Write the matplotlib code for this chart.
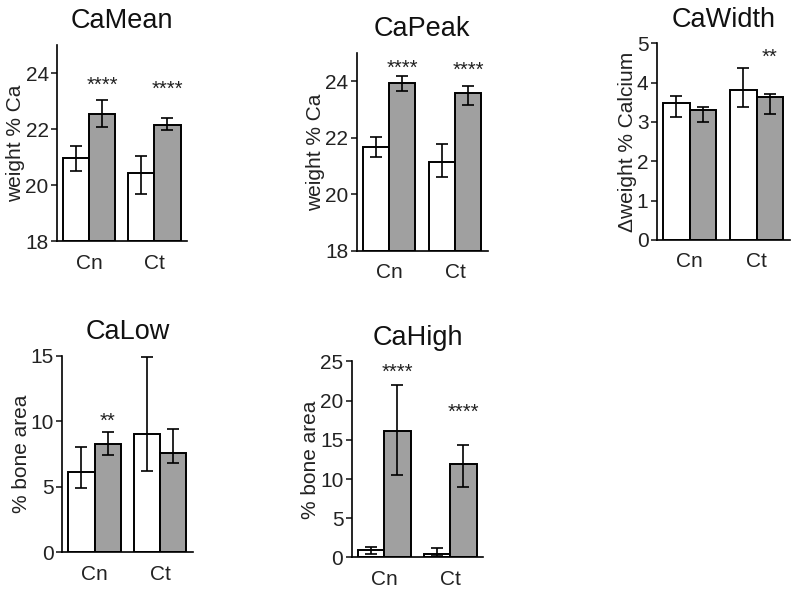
import matplotlib
import numpy as np

matplotlib.use("Agg")
from matplotlib import pyplot as plt

plt.rcParams["font.family"] = ["Liberation Sans", "DejaVu Sans"]

groups = ["Cn", "Ct"]

# CaMean
mean_ctrl = [20.97, 20.44]
mean_ctrl_lo = [0.47, 0.77]
mean_ctrl_hi = [0.43, 0.58]
mean_trt = [22.54, 22.14]
mean_trt_lo = [0.46, 0.19]
mean_trt_hi = [0.50, 0.26]
mean_stars = ["****", "****"]
mean_star_y = [23.79, 23.64]

# CaPeak
peak_ctrl = [21.67, 21.14]
peak_ctrl_lo = [0.37, 0.52]
peak_ctrl_hi = [0.37, 0.62]
peak_trt = [23.94, 23.58]
peak_trt_lo = [0.30, 0.42]
peak_trt_hi = [0.26, 0.26]
peak_stars = ["****", "****"]
peak_star_y = [24.66, 24.60]

# CaWidth
width_ctrl = [3.47, 3.82]
width_ctrl_lo = [0.35, 0.44]
width_ctrl_hi = [0.18, 0.56]
width_trt = [3.30, 3.64]
width_trt_lo = [0.30, 0.43]
width_trt_hi = [0.08, 0.08]
width_stars = ["", "**"]
width_star_y = [0, 4.79]

# CaLow
low_ctrl = [6.12, 9.07]
low_ctrl_lo = [1.20, 2.83]
low_ctrl_hi = [1.93, 5.88]
low_trt = [8.30, 7.62]
low_trt_lo = [0.88, 0.82]
low_trt_hi = [0.92, 1.78]
low_stars = ["**", ""]
low_star_y = [10.5, 0]

# CaHigh
high_ctrl = [0.90, 0.38]
high_ctrl_lo = [0.43, 0.14]
high_ctrl_hi = [0.46, 0.82]
high_trt = [16.16, 11.90]
high_trt_lo = [5.61, 2.97]
high_trt_hi = [5.87, 2.40]
high_stars = ["****", "****"]
high_star_y = [24.36, 19.26]

panels = [
    dict(title="CaMean", ylabel="weight % Ca", ylim=(18, 25), yticks=[18, 20, 22, 24],
         ctrl=mean_ctrl, clo=mean_ctrl_lo, chi=mean_ctrl_hi,
         trt=mean_trt, tlo=mean_trt_lo, thi=mean_trt_hi,
         stars=mean_stars, sy=mean_star_y,
         pos=[0.0713, 0.5963, 0.1625, 0.3283], bottom=18),
    dict(title="CaPeak", ylabel="weight % Ca", ylim=(18, 25), yticks=[18, 20, 22, 24],
         ctrl=peak_ctrl, clo=peak_ctrl_lo, chi=peak_ctrl_hi,
         trt=peak_trt, tlo=peak_trt_lo, thi=peak_trt_hi,
         stars=peak_stars, sy=peak_star_y,
         pos=[0.4459, 0.5801, 0.1641, 0.3312], bottom=18),
    dict(title="CaWidth", ylabel="\u0394weight % Calcium", ylim=(0, 5), yticks=[0, 1, 2, 3, 4, 5],
         ctrl=width_ctrl, clo=width_ctrl_lo, chi=width_ctrl_hi,
         trt=width_trt, tlo=width_trt_lo, thi=width_trt_hi,
         stars=width_stars, sy=width_star_y,
         pos=[0.8209, 0.5980, 0.1666, 0.3295], bottom=0),
    dict(title="CaLow", ylabel="% bone area", ylim=(0, 15), yticks=[0, 5, 10, 15],
         ctrl=low_ctrl, clo=low_ctrl_lo, chi=low_ctrl_hi,
         trt=low_trt, tlo=low_trt_lo, thi=low_trt_hi,
         stars=low_stars, sy=low_star_y,
         pos=[0.0779, 0.0749, 0.1634, 0.3288], bottom=0),
    dict(title="CaHigh", ylabel="% bone area", ylim=(0, 25), yticks=[0, 5, 10, 15, 20, 25],
         ctrl=high_ctrl, clo=high_ctrl_lo, chi=high_ctrl_hi,
         trt=high_trt, tlo=high_trt_lo, thi=high_trt_hi,
         stars=high_stars, sy=high_star_y,
         pos=[0.4396, 0.0663, 0.1645, 0.3283], bottom=0),
]

fig = plt.figure(figsize=(8, 5.97), dpi=100)
x = np.arange(len(groups))
w = 0.4

for p in panels:
    ax = fig.add_axes(p["pos"])
    b = p["bottom"]
    ax.bar(x - w / 2, np.array(p["ctrl"]) - b, w, bottom=b, color="white",
           edgecolor="black", linewidth=1.4, zorder=2)
    ax.bar(x + w / 2, np.array(p["trt"]) - b, w, bottom=b, color="#a0a0a0",
           edgecolor="black", linewidth=1.4, zorder=2)
    ax.errorbar(x - w / 2, p["ctrl"], yerr=[p["clo"], p["chi"]], fmt="none",
                ecolor="black", elinewidth=1.2, capsize=4.5, capthick=1.2, zorder=3)
    ax.errorbar(x + w / 2, p["trt"], yerr=[p["tlo"], p["thi"]], fmt="none",
                ecolor="black", elinewidth=1.2, capsize=4.5, capthick=1.2, zorder=3)
    for i, s in enumerate(p["stars"]):
        if s:
            ax.annotate(s, (x[i] + w / 2, p["sy"][i]), xytext=(0, -8.3),
                        textcoords="offset points", ha="center", va="baseline",
                        fontsize=14.5, color="#222222")
    ax.set_xlim(-0.49, 1.5)
    ax.set_ylim(*p["ylim"])
    ax.set_yticks(p["yticks"])
    ax.set_xticks(x)
    ax.set_xticklabels(groups)
    ax.spines["top"].set_visible(False)
    ax.spines["right"].set_visible(False)
    ax.spines["left"].set_linewidth(1.2)
    ax.spines["bottom"].set_linewidth(1.2)
    ax.tick_params(axis="y", length=4, width=1.2, pad=2, labelsize=15, colors="#222222")
    ax.tick_params(axis="x", length=0, pad=9, labelsize=15, colors="#222222")
    ax.set_ylabel(p["ylabel"], fontsize=15, color="#222222", labelpad=0)
    ax.set_title(p["title"], fontsize=19.5, pad=12, color="#111111")

fig.savefig("out.png", dpi=100)
